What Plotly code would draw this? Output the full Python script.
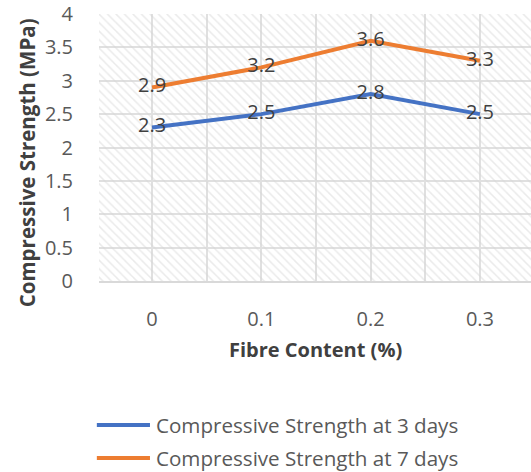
import plotly.graph_objects as go

fibre = [0, 0.1, 0.2, 0.3]
tick_labels = ["0", "0.1", "0.2", "0.3"]
cs_3days = [2.3, 2.5, 2.8, 2.5]
cs_7days = [2.9, 3.2, 3.6, 3.3]
names = ["Compressive Strength at 3 days", "Compressive Strength at 7 days"]
colors = ["#4472C4", "#ED7D31"]
x_title = "Fibre Content (%)"
y_title = "Compressive Strength (MPa)"

FONT = "Open Sans"
xr = [-0.0485, 0.3467]
yr = [0, 4]

# vertical gridlines at categories and midpoints; only categories labelled
grid_x = [-0.05, 0, 0.05, 0.1, 0.15, 0.2, 0.25, 0.3, 0.35]
grid_txt = [tick_labels[fibre.index(round(v, 2))] if round(v, 2) in fibre else "" for v in grid_x]

fig = go.Figure()
# hatched plot background (transparent gaps so gridlines show through)
fig.add_trace(go.Scatter(
    x=[xr[0], xr[1], xr[1], xr[0], xr[0]], y=[yr[0], yr[0], yr[1], yr[1], yr[0]],
    mode="none", fill="toself", fillcolor="rgba(0,0,0,0)",
    fillpattern=dict(shape="\\", fgcolor="#d6d6d6", bgcolor="rgba(0,0,0,0)", size=6, solidity=0.25),
    hoverinfo="skip", showlegend=False))

for vals, name, col in zip([cs_3days, cs_7days], names, colors):
    fig.add_trace(go.Scatter(
        x=fibre, y=vals, name=name, mode="lines+text",
        line=dict(color=col, width=4),
        text=[f"{v:g}" for v in vals], textposition="middle center",
        textfont=dict(family=FONT, size=20, color="#404040"),
        showlegend=False, cliponaxis=False))

# manual legend (longer line samples, as in the reference)
shapes = []
annotations = []
leg_y = [-0.539, -0.663]
for name, col, ly in zip(names, colors, leg_y):
    shapes.append(dict(type="line", xref="paper", yref="paper", x0=-0.005, x1=0.118, y0=ly, y1=ly,
                       line=dict(color=col, width=4)))
    annotations.append(dict(xref="paper", yref="paper", x=0.128, y=ly, xanchor="left", yanchor="middle",
                            text=name, showarrow=False,
                            font=dict(family=FONT, size=20.6, color="#595959")))
annotations.append(dict(xref="paper", yref="paper", x=0.502, y=-0.258, xanchor="center", yanchor="middle",
                        text=f"<b>{x_title}</b>", showarrow=False,
                        font=dict(family=FONT, size=20, color="#404040")))
annotations.append(dict(xref="paper", yref="paper", x=-0.166, y=0.442, xanchor="center", yanchor="middle",
                        text=f"<b>{y_title}</b>", showarrow=False, textangle=-90,
                        font=dict(family=FONT, size=20.5, color="#404040")))

fig.update_layout(
    width=531, height=472,
    margin=dict(l=99, r=0, t=14, b=191, autoexpand=False),
    paper_bgcolor="white", plot_bgcolor="white",
    font=dict(family=FONT, color="#595959"),
    showlegend=False,
    shapes=shapes, annotations=annotations,
    xaxis=dict(range=xr, tickvals=grid_x, ticktext=grid_txt, automargin=False,
               showgrid=True, gridcolor="#e0e0e0", gridwidth=2,
               zeroline=False, showline=True, linecolor="#d9d9d9", linewidth=2,
               ticks="outside", ticklen=19, tickcolor="rgba(0,0,0,0)",
               tickfont=dict(family=FONT, size=20, color="#595959")),
    yaxis=dict(range=yr, dtick=0.5, tick0=0, showgrid=True, gridcolor="#e0e0e0", gridwidth=2,
               zeroline=False, showline=False, automargin=False,
               ticks="outside", ticklen=21, tickcolor="rgba(0,0,0,0)",
               tickfont=dict(family=FONT, size=20, color="#595959")),
)

fig.write_html("out.html")
